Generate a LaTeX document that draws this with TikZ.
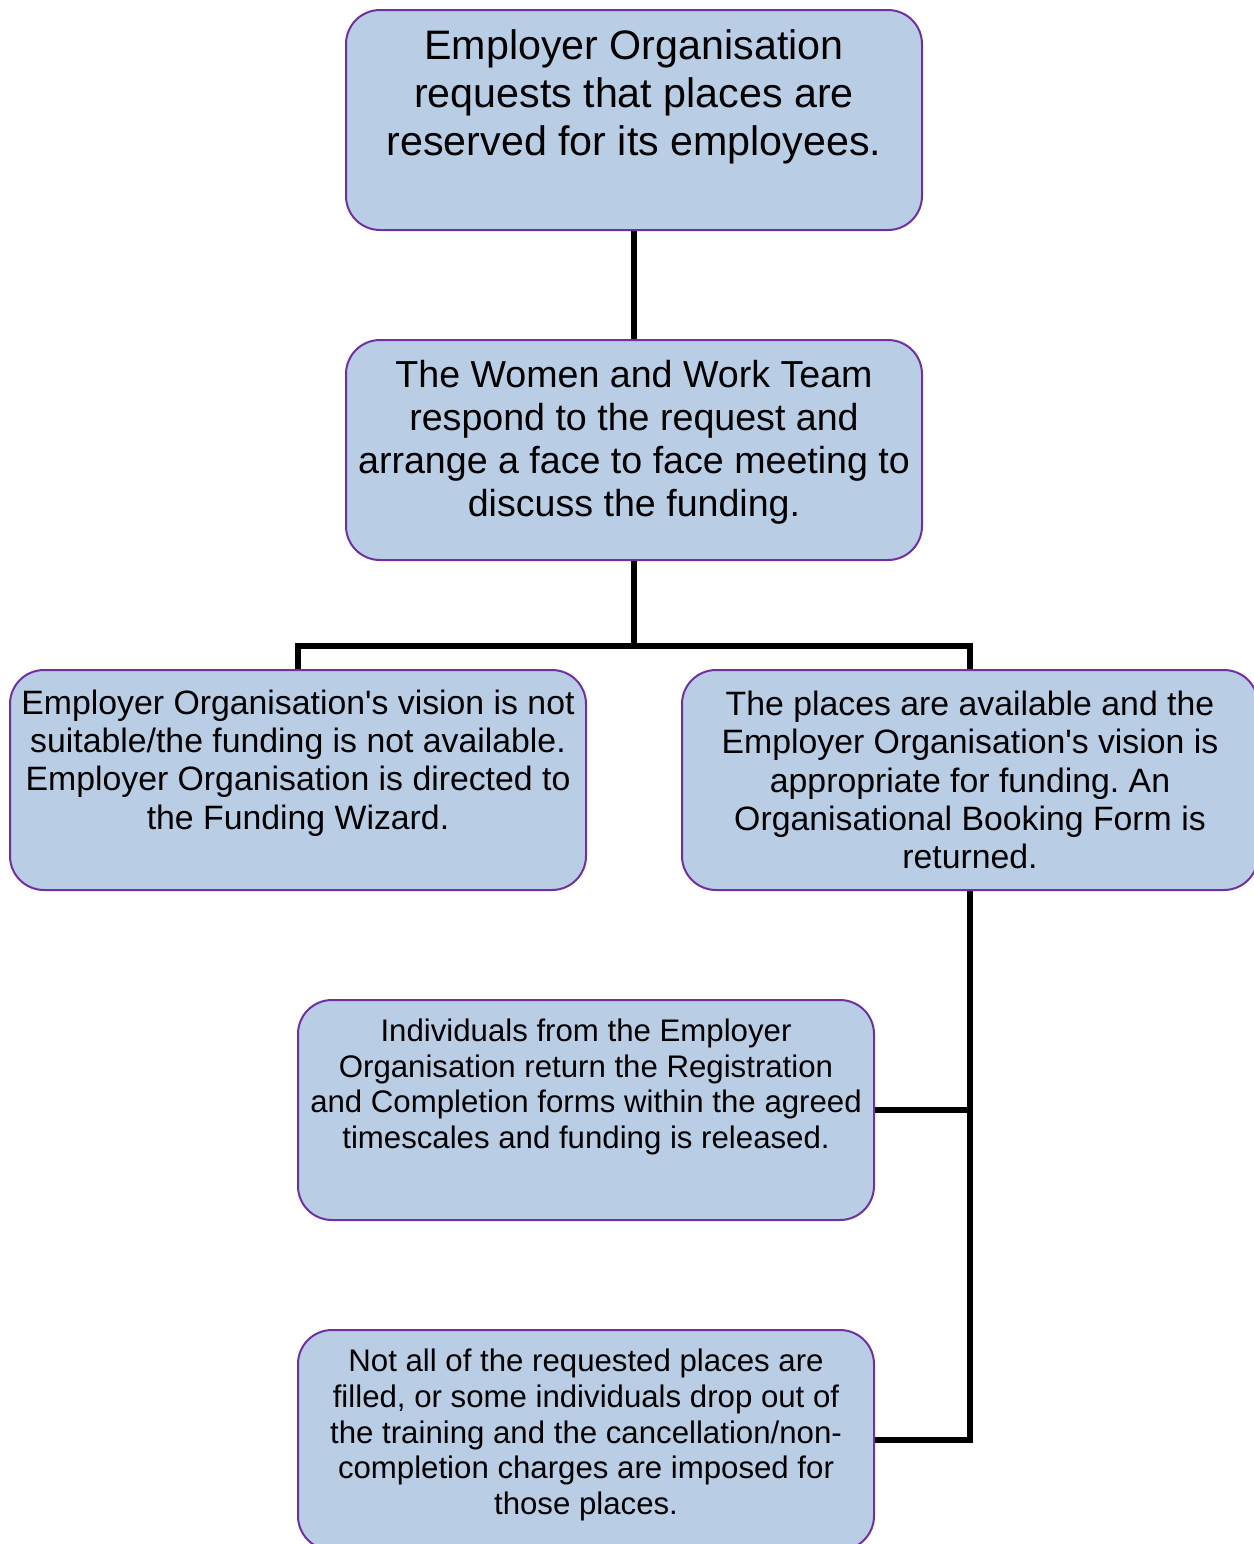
\documentclass[tikz,border=0pt]{standalone}
\usepackage{fontspec}
\setmainfont{Liberation Sans}
\usepackage{tikz}
\usetikzlibrary{calc}
\definecolor{boxblue}{HTML}{B9CDE5}
\definecolor{boxpurple}{HTML}{7030A0}
\frenchspacing

\tikzset{
    stepbox/.style={draw=boxpurple, fill=boxblue, line width=1pt, rounded corners=17pt,
        minimum width=288pt, minimum height=110pt, inner sep=0pt},
    steptext/.style={align=center, inner sep=0pt},
    link/.style={line width=2.6pt, black},
}

\begin{document}
\begin{tikzpicture}[x=0.5pt, y=-0.5pt]
    \clip (0,0) rectangle (1254,1544);

    % boxes
    \node[stepbox] (req) at (634,120) {};
    \node[stepbox] (resp) at (634,450) {};
    \node[stepbox] (reject) at (298,780) {};
    \node[stepbox] (accept) at (970,780) {};
    \node[stepbox] (done) at (586,1110) {};
    \node[stepbox] (fail) at (586,1440) {};

    % texts
    \node[steptext, font=\fontsize{20.6pt}{24pt}\selectfont] (req text) at (634,97)
        {Employer Organisation\\requests that places are\\reserved for its employees.};
    \node[steptext, font=\fontsize{18.8pt}{21.5pt}\selectfont] (resp text) at (634,442)
        {The Women and Work Team\\respond to the request and\\arrange a face to face meeting to\\discuss the funding.};
    \node[steptext, font=\fontsize{16.9pt}{19.2pt}\selectfont] (reject text) at (298,763)
        {Employer Organisation\textquotesingle s vision is not\\suitable/the funding is not available.\\Employer Organisation is directed to\\the Funding Wizard.};
    \node[steptext, font=\fontsize{16.9pt}{19.2pt}\selectfont] (accept text) at (970,780)
        {The places are available and the\\Employer Organisation\textquotesingle s vision is\\appropriate for funding. An\\Organisational Booking Form is\\returned.};
    \node[steptext, font=\fontsize{15.6pt}{17.9pt}\selectfont] (done text) at (586,1087)
        {Individuals from the Employer\\Organisation return the Registration\\and Completion forms within the agreed\\timescales and funding is released.};
    \node[steptext, font=\fontsize{15.6pt}{17.9pt}\selectfont] (fail text) at (586,1435)
        {Not all of the requested places are\\filled, or some individuals drop out of\\the training and the cancellation/non-\\completion charges are imposed for\\those places.};

    % connectors
    \coordinate (split) at (634,646);
    \draw[link] (req.south) -- (resp.north);
    \draw[link] (resp.south) -- (split) -| (reject.north);
    \draw[link] (split) -| (accept.north);
    \draw[link] (accept.south) |- (fail.east);
    \draw[link] (done.east) -- (done.east -| accept.south);
\end{tikzpicture}
\end{document}
